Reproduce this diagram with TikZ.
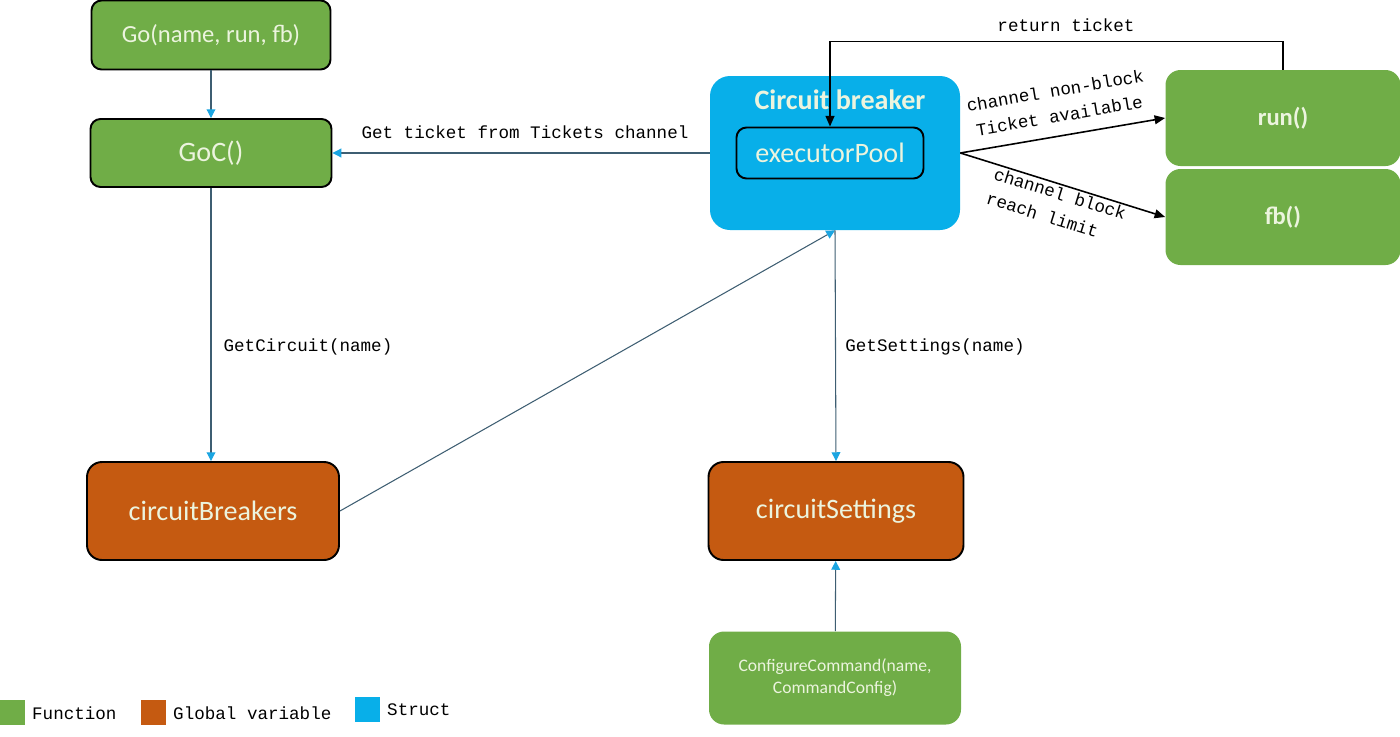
\documentclass[tikz,border=0pt]{standalone}
\usepackage{fontspec}
\setmainfont{Carlito}
\setmonofont{Liberation Mono}
\usetikzlibrary{arrows.meta}
\definecolor{kgreen}{RGB}{112,173,71}
\definecolor{korange}{RGB}{197,90,17}
\definecolor{kblue}{RGB}{8,175,233}
\definecolor{ktext}{RGB}{236,244,222}
\definecolor{kline}{RGB}{62,94,114}
\definecolor{ktip}{RGB}{27,165,225}
\begin{document}
\begin{tikzpicture}[x=0.02cm,y=-0.02cm,
 kbox/.style={rounded corners=0.3cm,text=ktext,align=center,font=\fontsize{16}{19}\selectfont,inner sep=0pt},
 kfun/.style={kbox,fill=kgreen},
 kvar/.style={kbox,fill=korange,draw=black,line width=1.1pt},
 klink/.style={draw=kline,line width=0.6pt,-{Triangle[length=5pt,width=5pt,color=ktip]}},
 kflow/.style={draw=black,line width=0.9pt,-{Triangle[length=6pt,width=5pt]}},
 klab/.style={font=\ttfamily\fontsize{10}{14.5}\selectfont}]
\def\kpx{0.02cm}
\useasboundingbox(0,0)rectangle(1400,737);
% functions
\node[kfun,draw=black,line width=1.1pt,rounded corners=0.2cm,minimum width=239*\kpx,minimum height=69*\kpx,font=\fontsize{14}{17}\selectfont](go)at(211,35){Go(name, run, fb)};
\node[kfun,draw=black,line width=1.1pt,rounded corners=0.2cm,minimum width=241*\kpx,minimum height=68*\kpx](goc)at(211,153){GoC()};
\node[kfun,minimum width=252*\kpx,minimum height=93*\kpx,font=\fontsize{10}{12.5}\selectfont](conf)at(835,678){ConfigureCommand(name,\\CommandConfig)};
\node[kfun,minimum width=235*\kpx,minimum height=96*\kpx,font=\bfseries\fontsize{14}{17}\selectfont](run)at(1283,118){run()};
\node[kfun,minimum width=235*\kpx,minimum height=96*\kpx,font=\bfseries\fontsize{14}{17}\selectfont](fb)at(1283,217){fb()};
% global variables
\node[kvar,minimum width=252*\kpx,minimum height=98*\kpx](cbk)at(213,511){circuitBreakers};
\node[kvar,minimum width=255*\kpx,minimum height=98*\kpx](cset)at(836,511){circuitSettings};
% struct
\node[kbox,fill=kblue,rounded corners=0.4cm,minimum width=250*\kpx,minimum height=154*\kpx](cb)at(835,153){};
\node[text=ktext,font=\bfseries\fontsize{16}{19}\selectfont](cbt)at(840,100){Circuit breaker};
\node[kbox,fill=kblue,draw=black,line width=1.1pt,rounded corners=0.2cm,minimum width=187*\kpx,minimum height=51*\kpx](ep)at(830,153){executorPool};
% connectors
\draw[klink](go)--(goc);
\draw[klink](cb)--(goc);
\node[klab](lticket)at(525,132){Get ticket from Tickets channel};
\draw[klink](goc)--(goc|-cbk.north);
\node[klab](lcircuit)at(308,347){GetCircuit(name)};
\draw[klink](cbk.east)--(cb.south);
\draw[klink](cb.south)--(cset.north);
\node[klab](lsettings)at(935,347){GetSettings(name)};
\draw[klink](conf)--(cset);
\draw[kflow](cb.east|-ep)--(run.west)node[klab,midway,above=4pt,sloped,align=center](lnonblock){channel non-block\\Ticket available};
\draw[kflow](cb.east|-ep)--(fb.west)node[klab,midway,below,sloped,align=left,inner sep=1pt](lblock){channel block\\reach limit};
\draw[kflow](run.north)--++(0,-28)-|(ep.north);
\node[klab](lreturn)at(1066,25){return ticket};
% legend
\foreach \kx/\ky/\kc/\kt in {0/700/kgreen/{Function},141/700/korange/{Global variable},355/697/kblue/{Struct}}{
\fill[\kc](\kx,\ky)rectangle++(25,25);
\node[klab,anchor=west](leg\kx)at(\kx+26,\ky+13){\kt};}
\end{tikzpicture}
\end{document}
